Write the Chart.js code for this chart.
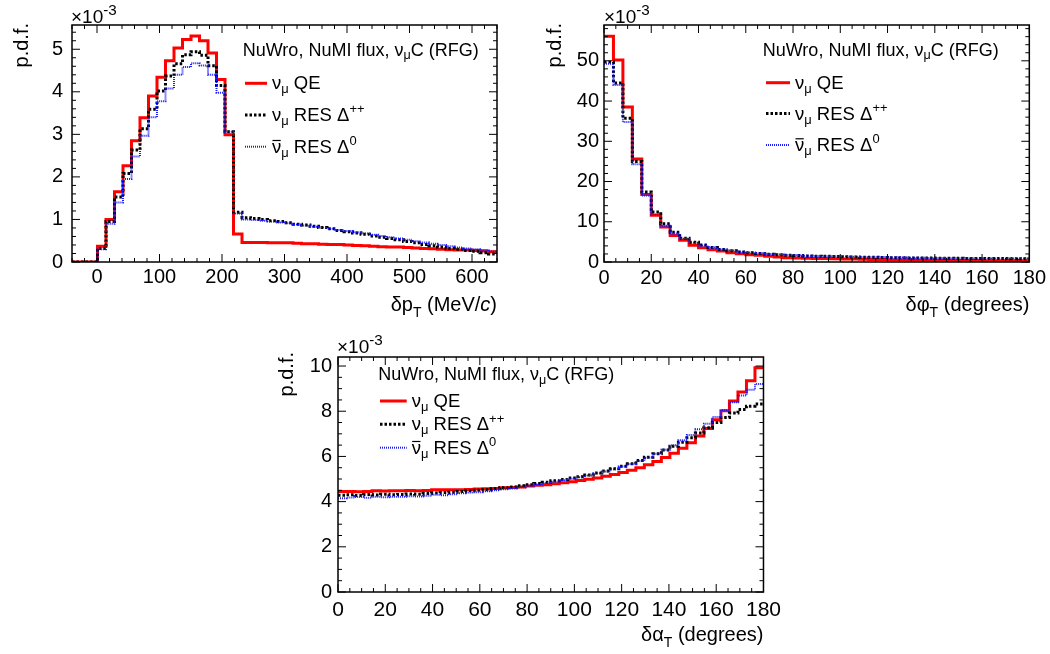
<!DOCTYPE html>
<html>
<head>
<meta charset="utf-8">
<script src="https://cdn.jsdelivr.net/npm/chart.js@4.4.1/dist/chart.umd.min.js"></script>
<style>
  body { margin: 0; background: #fff; width: 1050px; height: 654px; overflow: hidden; }
  canvas { position: absolute; }
</style>
</head>
<body>
<canvas id="c-pt" width="525" height="327" style="left:0;top:0"></canvas>
<canvas id="c-phi" width="525" height="327" style="left:525px;top:0"></canvas>
<canvas id="c-alpha" width="525" height="327" style="left:262px;top:327px"></canvas>
<script>
// --- Données (p.d.f. x 1e-3) ---

// dpT : 50 bins de -40 à 640 MeV/c
const ptLow = -40, ptWidth = 13.6;
const ptQE = [0, 0, 0, 0.37, 1.00, 1.65, 2.26, 2.85, 3.39, 3.90, 4.34, 4.73, 5.03, 5.23, 5.31, 5.20, 4.91, 4.29, 2.99, 0.66,
  0.46, 0.46, 0.46, 0.45, 0.45, 0.45, 0.44, 0.43, 0.43, 0.42, 0.41, 0.41, 0.40, 0.39, 0.38,
  0.37, 0.36, 0.35, 0.35, 0.34, 0.33, 0.32, 0.31, 0.30, 0.29, 0.28, 0.28, 0.27, 0.26, 0.24];
const ptResPP = [0, 0, 0, 0.32, 0.95, 1.53, 2.08, 2.63, 3.13, 3.59, 4.02, 4.37, 4.66, 4.87, 4.94, 4.86, 4.61, 4.15, 3.06, 1.17,
  1.04, 1.02, 1.00, 0.97, 0.95, 0.92, 0.89, 0.87, 0.84, 0.81, 0.78, 0.74, 0.71, 0.68, 0.65,
  0.61, 0.58, 0.55, 0.52, 0.48, 0.45, 0.41, 0.38, 0.35, 0.32, 0.30, 0.27, 0.25, 0.22, 0.19];
const ptResBar0 = [0, 0, 0, 0.30, 0.90, 1.40, 1.95, 2.48, 2.97, 3.40, 3.78, 4.08, 4.40, 4.58, 4.67, 4.62, 4.40, 3.98, 3.06, 1.14,
  1.00, 0.99, 0.97, 0.95, 0.93, 0.91, 0.88, 0.86, 0.83, 0.81, 0.78, 0.75, 0.73, 0.70, 0.67,
  0.64, 0.61, 0.58, 0.55, 0.52, 0.49, 0.46, 0.43, 0.40, 0.37, 0.34, 0.32, 0.30, 0.28, 0.25];

// dphiT : 45 bins de 0 à 180 degrés
const phiLow = 0, phiWidth = 4;
const phiQE = [56.1, 50.2, 38.5, 25.6, 16.8, 11.6, 8.7, 6.6, 5.4, 4.15, 3.57, 3.07, 2.74, 2.32, 2.07, 1.82, 1.66, 1.41, 1.24, 1.08,
  1.00, 0.95, 0.90, 0.85, 0.80, 0.76, 0.72, 0.68, 0.64, 0.60, 0.57, 0.54, 0.51, 0.48, 0.45,
  0.43, 0.41, 0.39, 0.37, 0.35, 0.33, 0.31, 0.30, 0.29, 0.28];
const phiResPP = [49.7, 44.5, 35.7, 25.0, 17.4, 12.4, 9.5, 7.4, 5.9, 4.9, 4.2, 3.6, 3.1, 2.8, 2.5, 2.3, 2.1, 1.95, 1.8, 1.7,
  1.60, 1.52, 1.45, 1.40, 1.35, 1.30, 1.25, 1.20, 1.16, 1.12, 1.08, 1.05, 1.02, 1.00, 0.97,
  0.95, 0.93, 0.91, 0.89, 0.87, 0.86, 0.85, 0.84, 0.83, 0.82];
const phiResBar0 = [49.3, 44.0, 34.8, 24.3, 16.5, 11.8, 9.0, 7.1, 5.8, 4.8, 4.1, 3.6, 3.15, 2.85, 2.55, 2.35, 2.15, 2.0, 1.85, 1.75,
  1.65, 1.56, 1.50, 1.45, 1.40, 1.35, 1.30, 1.25, 1.20, 1.16, 1.12, 1.09, 1.06, 1.03, 1.00,
  0.98, 0.96, 0.94, 0.92, 0.90, 0.89, 0.88, 0.87, 0.86, 0.85];

// dalphaT : 50 bins de 0 à 180 degrés
const alphaLow = 0, alphaWidth = 3.6;
const alphaQE = [4.45, 4.45, 4.44, 4.45, 4.48, 4.47, 4.48, 4.48, 4.49, 4.48, 4.49, 4.52, 4.52, 4.53, 4.52, 4.54, 4.56, 4.57, 4.58,
  4.61, 4.63, 4.65, 4.69, 4.72, 4.75, 4.79, 4.83, 4.88, 4.93, 4.99, 5.05, 5.12, 5.20, 5.29, 5.39,
  5.50, 5.63, 5.78, 5.95, 6.14, 6.36, 6.61, 6.90, 7.24, 7.62, 8.02, 8.45, 8.85, 9.35, 9.92];
const alphaResPP = [4.28, 4.30, 4.27, 4.31, 4.29, 4.33, 4.30, 4.32, 4.34, 4.33, 4.36, 4.38, 4.40, 4.42, 4.45, 4.48, 4.50, 4.53, 4.57,
  4.61, 4.65, 4.70, 4.75, 4.80, 4.86, 4.92, 4.98, 5.04, 5.10, 5.18, 5.27, 5.35, 5.45, 5.56, 5.68,
  5.82, 5.96, 6.12, 6.28, 6.45, 6.63, 6.83, 7.04, 7.27, 7.50, 7.72, 7.92, 8.08, 8.22, 8.32];
const alphaResBar0 = [4.15, 4.18, 4.20, 4.17, 4.21, 4.19, 4.22, 4.21, 4.24, 4.23, 4.26, 4.30, 4.28, 4.33, 4.37, 4.40, 4.42, 4.46, 4.50,
  4.55, 4.58, 4.64, 4.70, 4.76, 4.82, 4.88, 4.95, 5.01, 5.08, 5.16, 5.25, 5.33, 5.43, 5.55, 5.67,
  5.80, 5.95, 6.12, 6.30, 6.50, 6.72, 6.95, 7.20, 7.45, 7.75, 8.05, 8.40, 8.70, 8.95, 9.20];

const FONT = '"Liberation Sans", Arial, Helvetica, sans-serif';
Chart.defaults.font.family = FONT;
Chart.defaults.color = '#000';

// styles des trois courbes (QE, RES D++, RES D0)
const lineStyles = [
  { color: '#ff0000', width: 3, dash: [] },
  { color: '#000000', width: 3, dash: [2.5, 2] },
  { color: '#1a1aff', width: 2, dash: [1, 1] }
];

// --- Histogramme -> points en escalier ---
function histPoints(low, width, values) {
  const pts = values.map((v, i) => ({ x: low + i * width, y: v }));
  pts.push({ x: low + values.length * width, y: values[values.length - 1] });
  return pts;
}

// --- Texte avec indices / exposants (style TLatex) ---
function richWidth(ctx, parts, size) {
  let w = 0;
  parts.forEach(p => {
    const s = (p.sub || p.sup) ? size * 0.7 : size;
    ctx.font = (p.italic ? 'italic ' : '') + s + 'px ' + FONT;
    w += ctx.measureText(p.t).width;
  });
  return w;
}

function drawRich(ctx, x, y, parts, size, subDy) {
  let cx = x;
  parts.forEach(p => {
    let s = size, dy = 0;
    if (p.sub) { s = size * 0.7; dy = size * (subDy || 0.25); }
    if (p.sup) { s = size * (p.scale || 0.7); dy = -size * 0.42; }
    ctx.font = (p.italic ? 'italic ' : '') + s + 'px ' + FONT;
    ctx.fillText(p.t, cx, y + dy);
    const w = ctx.measureText(p.t).width;
    if (p.bar) {
      ctx.beginPath();
      ctx.lineWidth = 1.2;
      ctx.moveTo(cx + 0.5, y - size * 0.66);
      ctx.lineTo(cx + w - 0.5, y - size * 0.66);
      ctx.stroke();
    }
    cx += w;
  });
}

const legendTitle = [{ t: 'NuWro, NuMI flux, ν' }, { t: 'μ', sub: true }, { t: 'C (RFG)' }];
const legendRows = [
  [{ t: 'ν' }, { t: 'μ', sub: true }, { t: ' QE' }],
  [{ t: 'ν' }, { t: 'μ', sub: true }, { t: ' RES Δ' }, { t: '++', sup: true }],
  [{ t: 'ν', bar: true }, { t: 'μ', sub: true }, { t: ' RES Δ' }, { t: '0', sup: true }]
];

// --- Plugin : cadre, graduations internes, titres et légende façon ROOT ---
function strokeLine(ctx, x0, y0, x1, y1) {
  ctx.beginPath();
  ctx.moveTo(x0, y0);
  ctx.lineTo(x1, y1);
  ctx.stroke();
}

const rootFrame = {
  id: 'rootFrame',
  afterDatasetsDraw(chart, args, o) {
    const { ctx, chartArea: a, scales } = chart;
    ctx.save();
    ctx.strokeStyle = '#000';
    ctx.fillStyle = '#000';
    ctx.lineWidth = 1;

    // graduations x (bas + haut)
    const xs = scales.x, ys = scales.y;
    let ratio = Math.round(o.xMajor / o.xMinor);
    for (let i = Math.ceil(xs.min / o.xMinor - 1e-6); i <= Math.floor(xs.max / o.xMinor + 1e-6); i++) {
      const p = xs.getPixelForValue(i * o.xMinor);
      const len = (i % ratio === 0) ? 8 : 4;
      strokeLine(ctx, p, a.bottom, p, a.bottom - len);
      strokeLine(ctx, p, a.top, p, a.top + len);
    }
    // graduations y (gauche + droite)
    ratio = Math.round(o.yMajor / o.yMinor);
    for (let i = Math.ceil(ys.min / o.yMinor - 1e-6); i <= Math.floor(ys.max / o.yMinor + 1e-6); i++) {
      const p = ys.getPixelForValue(i * o.yMinor);
      const len = (i % ratio === 0) ? 8 : 4;
      strokeLine(ctx, a.left, p, a.left + len, p);
      strokeLine(ctx, a.right, p, a.right - len, p);
    }
    // cadre
    ctx.lineWidth = 1.5;
    ctx.strokeRect(a.left, a.top, a.right - a.left, a.bottom - a.top);

    // x10^-3
    ctx.textAlign = 'left';
    ctx.textBaseline = 'alphabetic';
    drawRich(ctx, o.expo.x, o.expo.y, [{ t: '×10' }, { t: '-3', sup: true, scale: 0.8 }], 19);

    // titre axe y (tourné, aligné en haut)
    ctx.save();
    ctx.translate(o.yTitle.x, o.yTitle.top);
    ctx.rotate(-Math.PI / 2);
    ctx.textAlign = 'right';
    ctx.font = '20px ' + FONT;
    ctx.fillText('p.d.f.', 0, 0);
    ctx.restore();

    // titre axe x (aligné à droite)
    const w = richWidth(ctx, o.xTitle.parts, 20);
    ctx.textAlign = 'left';
    drawRich(ctx, a.right - w, o.xTitle.y, o.xTitle.parts, 20, 0.32);

    // légende
    const L = o.leg;
    drawRich(ctx, L.titleX, L.titleY, legendTitle, 18, 0.22);
    lineStyles.forEach((s, k) => {
      ctx.save();
      ctx.strokeStyle = s.color;
      ctx.lineWidth = s.width;
      ctx.setLineDash(s.dash);
      strokeLine(ctx, L.x0, L.rows[k], L.x1, L.rows[k]);
      ctx.restore();
      ctx.strokeStyle = '#000';
      drawRich(ctx, L.textX, L.rows[k] + 6, legendRows[k], 18.5, 0.22);
    });
    ctx.restore();
  }
};

// --- Construction d'un panneau ---
function makePanel(id, p) {
  const canvas = document.getElementById(id);
  const W = canvas.width, H = canvas.height;
  const series = [p.qe, p.pp, p.bar0];

  return new Chart(canvas, {
    type: 'line',
    data: {
      datasets: series.map((vals, k) => ({
        data: histPoints(p.low, p.width, vals),
        borderColor: lineStyles[k].color,
        borderWidth: lineStyles[k].width,
        borderDash: lineStyles[k].dash,
        borderCapStyle: 'butt',
        stepped: true,
        pointRadius: 0,
        fill: false,
        order: 3 - k
      }))
    },
    options: {
      responsive: false,
      animation: false,
      events: [],
      layout: { padding: { left: 0, top: p.area.top, right: W - p.area.right, bottom: 0 } },
      scales: {
        x: {
          type: 'linear',
          min: p.xMin, max: p.xMax,
          afterFit: s => { s.height = H - p.area.bottom; },
          grid: { display: false, drawTicks: false },
          border: { display: false },
          ticks: {
            stepSize: p.xMajor, includeBounds: false, autoSkip: false, maxRotation: 0,
            padding: p.xPad, font: { size: p.xFont }, color: '#000'
          }
        },
        y: {
          type: 'linear',
          min: 0, max: p.yMax,
          afterFit: s => { s.width = p.area.left; },
          grid: { display: false, drawTicks: false },
          border: { display: false },
          ticks: {
            stepSize: p.yMajor, includeBounds: false, autoSkip: false,
            padding: p.yPad, font: { size: 20 }, color: '#000'
          }
        }
      },
      plugins: {
        legend: { display: false },
        tooltip: { enabled: false },
        rootFrame: {
          xMajor: p.xMajor, xMinor: p.xMinor, yMajor: p.yMajor, yMinor: p.yMinor,
          expo: p.expo, yTitle: p.yTitle, xTitle: p.xTitle, leg: p.leg
        }
      }
    },
    plugins: [rootFrame]
  });
}

makePanel('c-pt', {
  low: ptLow, width: ptWidth, qe: ptQE, pp: ptResPP, bar0: ptResBar0,
  area: { left: 72, top: 25, right: 497, bottom: 262 },
  xMin: -40, xMax: 640, xMajor: 100, xMinor: 20, xPad: 3, xFont: 20,
  yMax: 5.57, yMajor: 1, yMinor: 0.2, yPad: 9,
  expo: { x: 71, y: 22.5 },
  yTitle: { x: 28, top: 23 },
  xTitle: { y: 311, parts: [{ t: 'δp' }, { t: 'T', sub: true }, { t: ' (MeV/' }, { t: 'c', italic: true }, { t: ')' }] },
  leg: { titleX: 242.7, titleY: 55.5, x0: 245, x1: 267, textX: 272, rows: [83.3, 115, 146.7] }
});

makePanel('c-phi', {
  low: phiLow, width: phiWidth, qe: phiQE, pp: phiResPP, bar0: phiResBar0,
  area: { left: 79, top: 25, right: 505, bottom: 262 },
  xMin: 0, xMax: 180, xMajor: 20, xMinor: 5, xPad: 4, xFont: 20,
  yMax: 58.9, yMajor: 10, yMinor: 2, yPad: 5,
  expo: { x: 79, y: 22.5 },
  yTitle: { x: 36, top: 23 },
  xTitle: { y: 311, parts: [{ t: 'δφ' }, { t: 'T', sub: true }, { t: ' (degrees)' }] },
  leg: { titleX: 237.7, titleY: 55.5, x0: 241, x1: 265, textX: 270, rows: [82.7, 113.5, 145] }
});

makePanel('c-alpha', {
  low: alphaLow, width: alphaWidth, qe: alphaQE, pp: alphaResPP, bar0: alphaResBar0,
  area: { left: 76, top: 30, right: 502, bottom: 265 },
  xMin: 0, xMax: 180, xMajor: 20, xMinor: 5, xPad: 6, xFont: 21,
  yMax: 10.4, yMajor: 2, yMinor: 0.5, yPad: 6,
  expo: { x: 75, y: 26 },
  yTitle: { x: 31, top: 25 },
  xTitle: { y: 314, parts: [{ t: 'δα' }, { t: 'T', sub: true }, { t: ' (degrees)' }] },
  leg: { titleX: 116.3, titleY: 53, x0: 118, x1: 144.7, textX: 149.7, rows: [74, 97.3, 120.7] }
});
</script>
</body>
</html>
